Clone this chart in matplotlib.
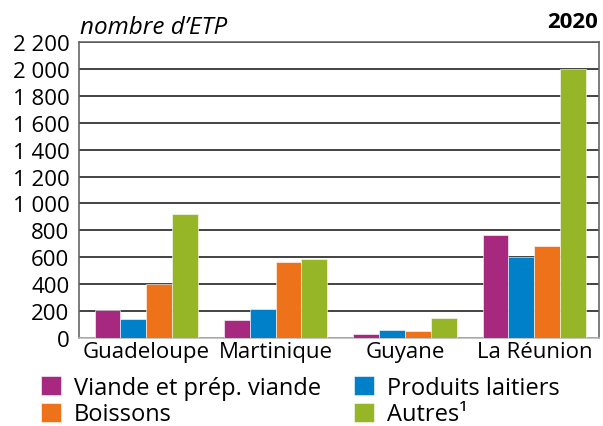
import matplotlib
matplotlib.use("Agg")
import matplotlib.pyplot as plt
import numpy as np

# données (nombre d'ETP, 2020)
regions = ["Guadeloupe", "Martinique", "Guyane", "La Réunion"]
series = ["Viande et prép. viande", "Produits laitiers", "Boissons", "Autres¹"]
viande = [210, 135, 30, 765]
laitiers = [142, 218, 58, 605]
boissons = [400, 565, 55, 685]
autres = [920, 590, 148, 2000]
colors = ["#A6287F", "#0080C8", "#EE7219", "#97B627"]
yticks = [0, 200, 400, 600, 800, 1000, 1200, 1400, 1600, 1800, 2000, 2200]

plt.rcParams["font.family"] = ["Open Sans", "DejaVu Sans"]

fig = plt.figure(figsize=(6.03, 4.27), dpi=100)
ax = fig.add_axes([79 / 603, 1 - 339 / 427, 520 / 603, 296 / 427])

x = np.arange(len(regions))
w = 0.2
values = [viande, laitiers, boissons, autres]
bars = []
for i, (vals, c) in enumerate(zip(values, colors)):
    b = ax.bar(x + (i - 1.5) * w, vals, w, color=c, edgecolor="white", linewidth=0.4, zorder=3)
    bars.append(b)

ax.set_xlim(-0.52, 3.5)
ax.set_ylim(0, 2200)
ax.set_yticks(yticks)
ax.set_yticklabels([f"{v:,}".replace(",", " ") for v in yticks], fontsize=16)
ax.set_xticks(x)
ax.set_xticklabels(regions, fontsize=16)
ax.tick_params(length=0, pad=7)
ax.tick_params(axis="x", pad=2)
ax.grid(axis="y", color="#222222", linewidth=1.2, zorder=1)
for s in ax.spines.values():
    s.set_color("#666666")
    s.set_linewidth(1.2)
ax.spines["bottom"].set_color("#bbbbbb")

fig.text(80 / 603, 1 - 28 / 427, "nombre d’ETP", fontsize=17.5, style="italic", va="center", ha="left")
fig.text(598 / 603, 1 - 22 / 427, "2020", fontsize=16, fontweight="bold", va="center", ha="right")

# légende sur deux colonnes
order = [0, 2, 1, 3]
leg = fig.legend([bars[i] for i in order], [series[i] for i in order], ncol=2,
                 loc="upper left", bbox_to_anchor=(41 / 603, 1 - 377 / 427),
                 frameon=False, fontsize=17, handlelength=0.85, handleheight=0.85,
                 handletextpad=0.55, columnspacing=1.4, labelspacing=0.1,
                 borderpad=0, borderaxespad=0)

fig.savefig("out.png", dpi=100)
